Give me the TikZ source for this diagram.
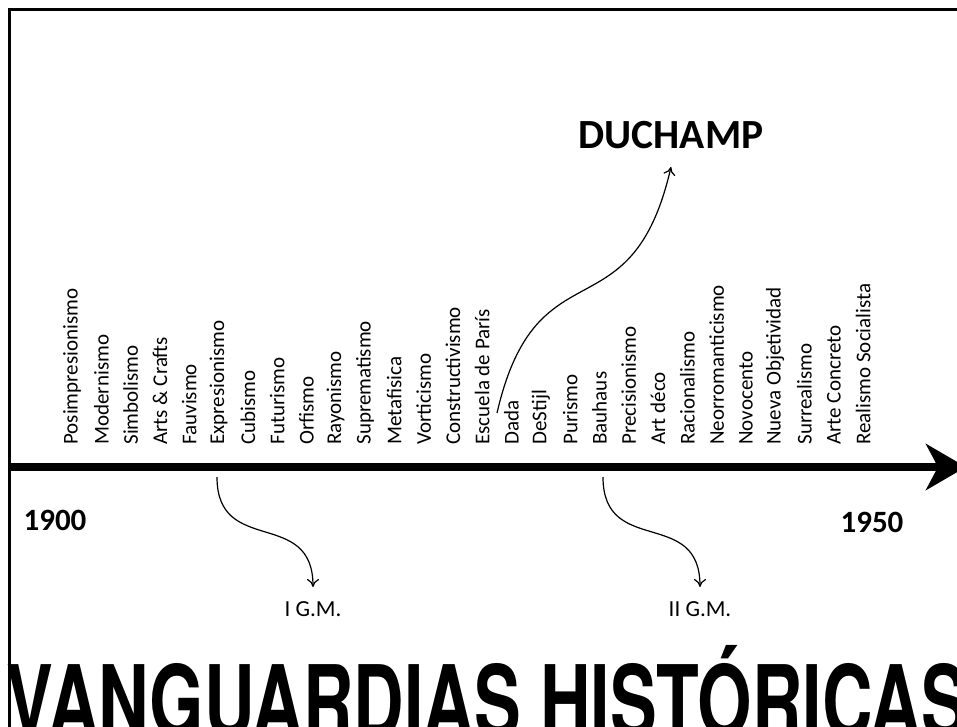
\documentclass[tikz,border=0pt]{standalone}
\usepackage{fontspec}
\setmainfont{Carlito}
\newfontfamily\titlefont{TeX Gyre Heros}
\usetikzlibrary{arrows.meta}

\begin{document}
\begin{tikzpicture}[x=0.5pt, y=-0.5pt,
    movement/.style={rotate=90, anchor=west, inner sep=0pt, font=\fontsize{10.5}{12}\selectfont},
    year/.style={font=\fontsize{15.5}{18}\selectfont\bfseries},
    war/.style={anchor=north, inner sep=7pt, font=\fontsize{11.5}{13}\selectfont},
    link/.style={line width=0.6pt, -{To[length=4pt, width=6pt]}}]
    \clip (0,0) rectangle (957,727);
    % Frame
    \draw[line width=1.5pt] (9.5,9.5) rectangle (990,760);

    % Time axis
    \coordinate (start) at (9.5,467);
    \coordinate (stop) at (966,467);
    \draw[line width=4.25pt, -{Stealth[length=20pt, width=23pt, inset=6pt]}] (start) -- (stop);
    \node[year] (y1900) at (55,520) {1900};
    \node[year] (y1950) at (872,522) {1950};

    % Movements, one column each
    \foreach \name [count=\i from 0] in {Posimpresionismo, Modernismo, Simbolismo,
        Arts \& Crafts, Fauvismo, Expresionismo, Cubismo, Futurismo, Orfismo,
        Rayonismo, Suprematismo, Metafisica, Vorticismo, Constructivismo,
        Escuela de París, Dada, DeStijl, Purismo, Bauhaus, Precisionismo,
        Art déco, Racionalismo, Neorromanticismo, Novocento, Nueva Objetividad,
        Surrealismo, Arte Concreto, Realismo Socialista}
        \node[movement] (m\i) at ({72+29.3*\i},445) {\name};

    % Duchamp
    \node[font=\fontsize{20.75}{24}\selectfont\bfseries, anchor=south, inner sep=9pt] (duchamp) at (671,167) {DUCHAMP};
    \coordinate (dadaout) at (497,413);
    \draw[link] (dadaout) to[out=77, in=-103, looseness=1.5] (duchamp.south);

    % World wars
    \coordinate (ww1) at (217,477);
    \coordinate (ww2) at (603,477);
    \node[war] (igm) at (313,587) {I G.M.};
    \node[war] (iigm) at (700,587) {II G.M.};
    \draw[link] (ww1) to[out=-90, in=90, looseness=1.4] (igm.north);
    \draw[link] (ww2) to[out=-90, in=90, looseness=1.4] (iigm.north);

    % Title
    \node[anchor=base west, inner sep=0pt, xscale=0.7, font=\titlefont\fontsize{50}{60}\selectfont\bfseries] (title) at (6,737) {VANGUARDIAS HISTÓRICAS};
\end{tikzpicture}
\end{document}
